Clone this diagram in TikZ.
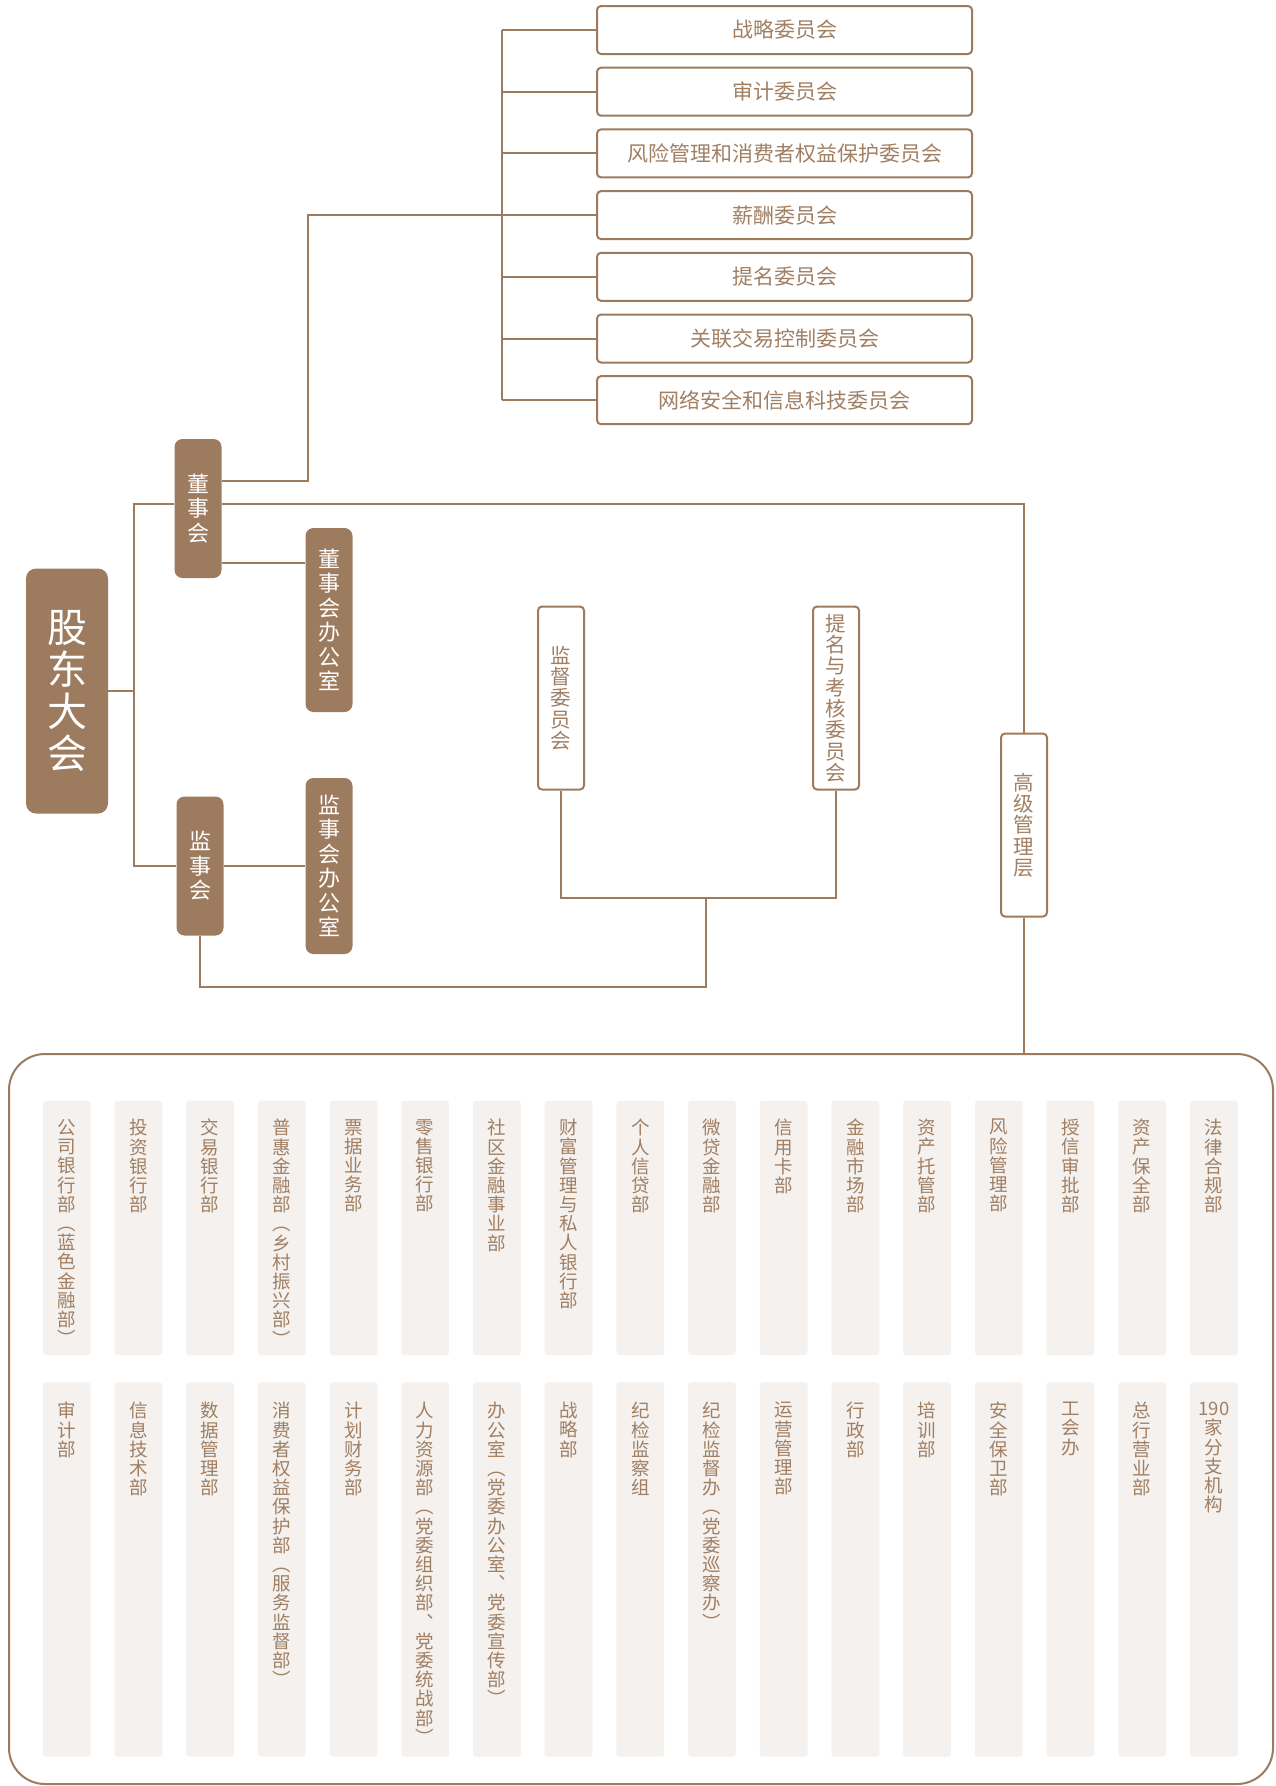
\documentclass[tikz,border=0pt]{standalone}
\usepackage{fontspec}
\setmainfont{Noto Sans CJK SC}
\usepackage{tikz}
\usetikzlibrary{positioning}

\definecolor{orgbrown}{RGB}{157,123,95}
\definecolor{txtbrown}{RGB}{160,127,99}
\definecolor{deptbg}{RGB}{244,241,238}

% stack the characters of a label one above the other
\makeatletter
\newcommand\vtext[1]{\edef\vt@arg{#1}\vbox{\lineskiplimit=-100pt\expandafter\vt@loop\expandafter{\vt@arg}}}
\newcommand\vt@loop[1]{\@tfor\vt@c:=#1\do{\hbox to 1.2em{\hss\vt@c\hss}}}
\makeatother

\begin{document}
\begin{tikzpicture}[x=1pt, y=-1pt,
    conn/.style={draw=orgbrown, line width=2pt},
    board/.style={fill=orgbrown, rounded corners=8pt, text=white, minimum width=47pt, inner sep=0pt, font=\fontsize{22}{24.5}\selectfont},
    cmte/.style={draw=orgbrown, line width=2pt, rounded corners=4pt, minimum width=375pt, minimum height=48pt, text=txtbrown, font=\fontsize{21}{24}\selectfont},
    vframe/.style={draw=orgbrown, line width=2pt, fill=white, rounded corners=4pt, minimum width=46pt, minimum height=183pt, inner sep=0pt, text=txtbrown, font=\fontsize{20.5}{21.3}\selectfont},
    deptcol/.style={fill=deptbg, rounded corners=3pt, minimum width=47.8pt, inner sep=0pt},
    depttext/.style={text=txtbrown, inner sep=0pt, font=\fontsize{18.5}{19.2}\selectfont}]

    \useasboundingbox (0,0) rectangle (1275,1786);

    % Committees of the board
    \foreach \txt [count=\i] in {战略委员会,审计委员会,风险管理和消费者权益保护委员会,薪酬委员会,提名委员会,关联交易控制委员会,网络安全和信息科技委员会}
      \node[cmte] (com\i) at (784.5, {30+61.7*(\i-1)}) {\txt};

    % Governing bodies
    \node[board, minimum width=82pt, minimum height=245pt, rounded corners=10pt, font=\fontsize{40}{42}\selectfont] (gudong) at (67,691) {\vtext{股东大会}};
    \node[board, minimum height=139pt] (dongshi) at (198,508.5) {\vtext{董事会}};
    \node[board, minimum height=139pt] (jianshi) at (200,866) {\vtext{监事会}};
    \node[board, minimum height=184pt] (dsoffice) at (329,620) {\vtext{董事会办公室}};
    \node[board, minimum height=176pt] (jsoffice) at (329,866) {\vtext{监事会办公室}};

    \node[vframe] (jiandu) at (561,698) {\vtext{监督委员会}};
    \node[vframe] (timing) at (836,698) {\vtext{提名与考核委员会}};
    \node[vframe] (gaoguan) at (1024,825) {\vtext{高级管理层}};

    % Departments
    \node[draw=orgbrown, line width=2pt, rounded corners=36pt, minimum width=1264pt, minimum height=730pt] (depts) at (641,1419) {};

    \def\colgap{71.7}
    \foreach \txt [count=\i] in {公司银行部︵蓝色金融部︶,投资银行部,交易银行部,普惠金融部︵乡村振兴部︶,票据业务部,零售银行部,社区金融事业部,财富管理与私人银行部,个人信贷部,微贷金融部,信用卡部,金融市场部,资产托管部,风险管理部,授信审批部,资产保全部,法律合规部} {
      \node[deptcol, minimum height=254.3pt] (ra\i) at ({66.7+\colgap*(\i-1)}, 1227.9) {};
      \node[depttext, below=18.5pt of ra\i.north] (ta\i) {\vtext{\txt}};
    }
    \foreach \txt [count=\i] in {审计部,信息技术部,数据管理部,消费者权益保护部︵服务监督部︶,计划财务部,人力资源部︵党委组织部︑党委统战部︶,办公室︵党委办公室︑党委宣传部︶,战略部,纪检监察组,纪检监督办︵党委巡察办︶,运营管理部,行政部,培训部,安全保卫部,工会办,总行营业部,{190}家分支机构} {
      \node[deptcol, minimum height=374.4pt] (rb\i) at ({66.7+\colgap*(\i-1)}, 1569.5) {};
      \node[depttext, below=20pt of rb\i.north] (tb\i) {\vtext{\txt}};
    }

    % Connectors
    \foreach \i in {1,...,7} \draw[conn] (com\i.west) -- ++(-94pt,0) coordinate (t\i);
    \draw[conn] (t1) -- (t7);
    \draw[conn] ([yshift=-42pt]dongshi.north east) -| ([xshift=-194pt]t4) -- (t4);

    \draw[conn] ([yshift=4.5pt]dongshi.east) -| (gaoguan.north);
    \draw[conn] (gaoguan.south) -- (gaoguan.south |- depts.north);

    \draw[conn] (gudong.east) -- ++(26pt,0) coordinate (gt);
    \draw[conn] ([yshift=4.5pt]dongshi.west) -| (gt) |- (jianshi.west);

    \coordinate (dso) at ([yshift=15pt]dongshi.south east);
    \draw[conn] (dso) -- (dso -| dsoffice.west);
    \draw[conn] (jianshi.east) -- (jsoffice.west);

    \coordinate (sj) at (706,898);
    \coordinate (sb) at (706,987);
    \draw[conn] (jiandu.south) |- (sj) -| (timing.south);
    \draw[conn] (jianshi.south) |- (sb) -- (sj);
  \end{tikzpicture}
\end{document}
